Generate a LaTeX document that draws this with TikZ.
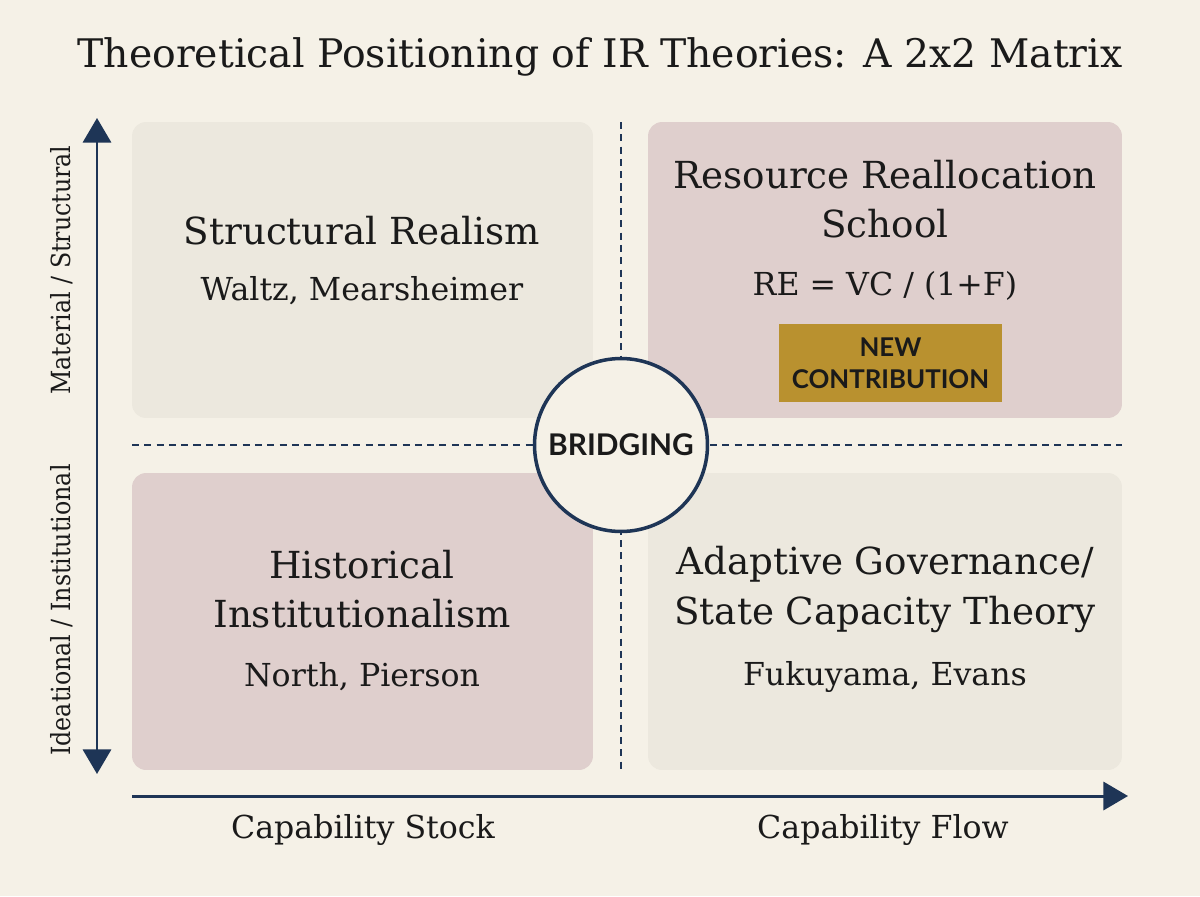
\documentclass[tikz,border=0pt]{standalone}
\usepackage{fontspec}
\setmainfont{DejaVu Serif}
\newfontfamily\condfont{DejaVu Serif Condensed}
\newfontfamily\lato{Lato}
\usetikzlibrary{arrows.meta}

\definecolor{paper}{HTML}{F5F1E7}
\definecolor{beigebox}{HTML}{ECE8DE}
\definecolor{rosebox}{HTML}{DFCFCD}
\definecolor{navy}{HTML}{1E3556}
\definecolor{gold}{HTML}{B9912F}
\definecolor{ink}{HTML}{1A1A1A}

\tikzset{
  quad/.style={rounded corners=0.28cm, inner sep=0pt},
  head/.style={text=ink, font=\fontsize{21.2}{28}\selectfont, align=center, inner sep=0pt},
  names/.style={text=ink, font=\fontsize{18}{21}\selectfont, inner sep=0pt},
  divider/.style={navy, line width=1.4pt, dash pattern=on 4pt off 3pt},
  axis/.style={navy, line width=1.7pt},
  axislabel/.style={text=ink, font=\fontsize{18}{21}\selectfont, inner sep=0pt},
  sidelabel/.style={text=ink, font=\condfont\fontsize{15}{17}\selectfont, rotate=90, inner sep=0pt},
}

\begin{document}
\begin{tikzpicture}[x=0.02cm, y=-0.02cm]
\useasboundingbox[fill=paper] (0,0) rectangle (1200,896);

% titre
\node[text=ink, font=\fontsize{22.4}{26}\selectfont] (title) at (600,57) {Theoretical Positioning of IR Theories: A 2x2 Matrix};

% les quatre cases
\node[quad, fill=beigebox, minimum width=9.22cm, minimum height=5.92cm] (tl) at (362.5,270) {};
\node[quad, fill=rosebox, minimum width=9.48cm, minimum height=5.92cm] (tr) at (885,270) {};
\node[quad, fill=rosebox, minimum width=9.22cm, minimum height=5.94cm] (bl) at (362.5,621.5) {};
\node[quad, fill=beigebox, minimum width=9.48cm, minimum height=5.94cm] (br) at (885,621.5) {};

% lignes pointillées
\coordinate (vtop) at (621,122);
\coordinate (vbot) at (621,770);
\coordinate (hleft) at (132,445);
\coordinate (hright) at (1122,445);
\draw[divider] (vtop) -- (vbot);
\draw[divider] (hleft) -- (hright);

% cercle central
\node[circle, draw=navy, line width=2pt, fill=paper, minimum size=3.46cm, inner sep=0pt,
      font=\lato\bfseries\fontsize{17}{20}\selectfont, text=ink] (bridge) at (621,445) {BRIDGING};

% haut gauche
\node[head] (srname) at (362,231) {Structural Realism};
\node[names] (srauth) at (362,291) {Waltz, Mearsheimer};

% haut droite
\node[head] (rrname) at (885,199.5) {Resource Reallocation\\School};
\node[names] (rrform) at (885,286) {RE = VC / (1+F)};
\node[fill=gold, minimum width=4.46cm, minimum height=1.56cm, inner sep=0pt, align=center,
      font=\lato\bfseries\fontsize{14.7}{18}\selectfont, text=ink] (badge) at (890.5,363) {NEW\\CONTRIBUTION};

% bas gauche
\node[head] (hiname) at (362,589.5) {Historical\\Institutionalism};
\node[names] (hiauth) at (362,677) {North, Pierson};

% bas droite
\node[head] (agname) at (885,589.5) {Adaptive Governance/\\State Capacity Theory};
\node[names] (agauth) at (885,677) {Fukuyama, Evans};

% axes
\coordinate (ytop) at (97,118);
\coordinate (ybot) at (97,774);
\coordinate (xleft) at (132,796);
\coordinate (xright) at (1128,796);
\draw[axis, {Triangle[length=14pt, width=16pt]}-{Triangle[length=14pt, width=16pt]}] (ytop) -- (ybot);
\draw[axis, -{Triangle[length=14pt, width=16pt]}] (xleft) -- (xright);

\node[sidelabel] (mat) at (62,270) {Material / Structural};
\node[sidelabel] (idea) at (62,610) {Ideational / Institutional};
\node[axislabel] (stock) at (363,830) {Capability Stock};
\node[axislabel] (flow) at (883,830) {Capability Flow};

\end{tikzpicture}
\end{document}
